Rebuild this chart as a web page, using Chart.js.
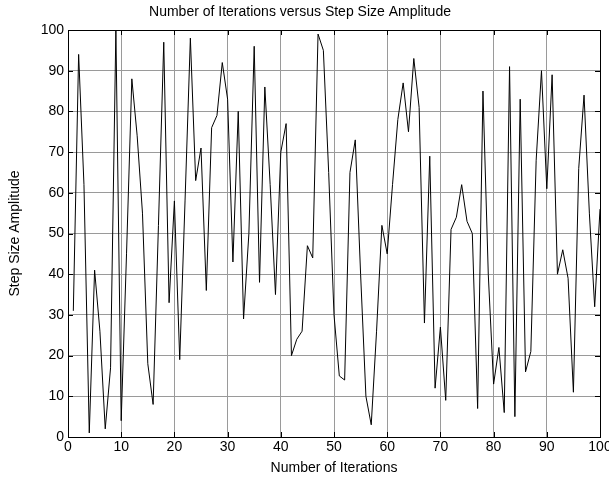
<!DOCTYPE html>
<html><head><meta charset="utf-8">
<script src="https://cdn.jsdelivr.net/npm/chart.js@4/dist/chart.umd.min.js"></script>
<style>html,body{margin:0;padding:0;background:#fff;}canvas{display:block;}</style>
</head><body>
<canvas id="c" width="609" height="481"></canvas>
<script>
const iterations = [1,2,3,4,5,6,7,8,9,10,11,12,13,14,15,16,17,18,19,20,21,22,23,24,25,26,27,28,29,30,31,32,33,34,35,36,37,38,39,40,41,42,43,44,45,46,47,48,49,50,51,52,53,54,55,56,57,58,59,60,61,62,63,64,65,66,67,68,69,70,71,72,73,74,75,76,77,78,79,80,81,82,83,84,85,86,87,88,89,90,91,92,93,94,95,96,97,98,99,100];
const stepSizeAmplitude = [31,94,62,1,41,26,2,17,100,4,45,88,74,55,18,8,52,97,33,58,19,58,98,63,71,36,76,79,92,83,43,80,29,50,96,38,86,62,35,70,77,20,24,26,47,44,99,95,65,30,15,14,65,73,40,10,3,26,52,45,62,78,87,75,93,81,28,69,12,27,9,51,54,62,53,50,7,85,40,13,22,6,91,5,83,16,21,68,90,61,89,40,46,39,11,66,84,55,32,56];
const xTickValues = [0,10,20,30,40,50,60,70,80,90,100];
const yTickValues = [0,10,20,30,40,50,60,70,80,90,100];

const FONT = "'Liberation Sans', Arial, Helvetica, sans-serif";
const FS = 14;

const boxPlugin = {
  id: 'boxTicks',
  afterDatasetsDraw(chart) {
    const {ctx, chartArea: a, scales: {x, y}} = chart;
    ctx.save();
    ctx.strokeStyle = '#000';
    ctx.lineWidth = 1;
    ctx.beginPath();
    const L = 5;
    xTickValues.forEach(v => {
      const px = Math.round(x.getPixelForValue(v)) + 0.5;
      ctx.moveTo(px, a.bottom); ctx.lineTo(px, a.bottom - L);
      ctx.moveTo(px, a.top); ctx.lineTo(px, a.top + L);
    });
    yTickValues.forEach(v => {
      const py = Math.round(y.getPixelForValue(v)) + 0.5;
      ctx.moveTo(a.left, py); ctx.lineTo(a.left + L, py);
      ctx.moveTo(a.right, py); ctx.lineTo(a.right - L, py);
    });
    ctx.stroke();
    ctx.strokeRect(Math.round(a.left) + 0.5, Math.round(a.top) + 0.5, Math.round(a.right - a.left), Math.round(a.bottom - a.top));
    ctx.restore();
  }
};

new Chart(document.getElementById('c'), {
  type: 'line',
  data: {
    datasets: [{
      data: iterations.map((it, i) => ({x: it, y: stepSizeAmplitude[i]})),
      borderColor: '#000',
      borderWidth: 1,
      pointRadius: 0,
      tension: 0,
      fill: false
    }]
  },
  options: {
    responsive: false,
    animation: false,
    devicePixelRatio: 1,
    layout: {padding: {left: 0, right: 9, top: 0, bottom: 0}},
    plugins: {
      legend: {display: false},
      tooltip: {enabled: false},
      title: {
        display: true,
        text: 'Number of Iterations versus Step Size Amplitude',
        color: '#000',
        font: {family: FONT, size: FS, weight: 'normal'},
        padding: {top: 3.6, bottom: 9.6}
      }
    },
    scales: {
      x: {
        type: 'linear', min: 0, max: 100,
        afterBuildTicks: s => { s.ticks = xTickValues.map(v => ({value: v})); },
        afterFit: s => { s.height = 44; s.paddingRight = 0; s.paddingLeft = 0; },
        grid: {color: '#9a9a9a', lineWidth: 1, drawTicks: false},
        border: {display: true, color: '#000', width: 1},
        ticks: {color: '#000', font: {family: FONT, size: FS}, padding: 2, maxRotation: 0, autoSkip: false},
        title: {display: true, text: 'Number of Iterations', color: '#000', font: {family: FONT, size: FS}, padding: {top: 0, bottom: 4.6}}
      },
      y: {
        type: 'linear', min: 0, max: 100,
        afterBuildTicks: s => { s.ticks = yTickValues.map(v => ({value: v})); },
        afterFit: s => { s.width = 68; },
        grid: {color: '#9a9a9a', lineWidth: 1, drawTicks: false},
        border: {display: true, color: '#000', width: 1},
        ticks: {color: '#000', font: {family: FONT, size: FS}, padding: 4, autoSkip: false},
        title: {display: true, text: 'Step Size Amplitude', color: '#000', font: {family: FONT, size: FS}, padding: {top: 6.6, bottom: 0}}
      }
    }
  },
  plugins: [boxPlugin]
});
</script>
</body></html>
